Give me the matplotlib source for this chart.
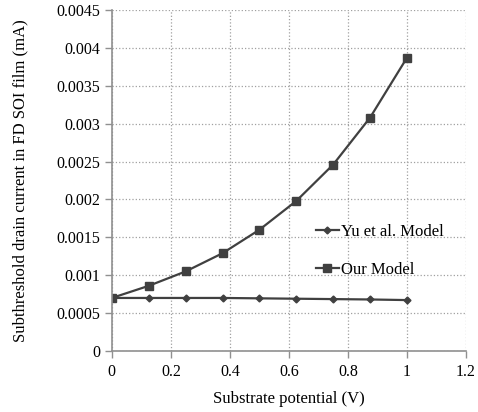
import matplotlib
matplotlib.use("Agg")
import matplotlib.pyplot as plt

# dane
potencjal = [0, 0.125, 0.25, 0.375, 0.5, 0.625, 0.75, 0.875, 1.0]
yu_model = [0.00070, 0.00070, 0.00070, 0.00070, 0.000695, 0.00069, 0.000685, 0.00068, 0.000672]
our_model = [0.00070, 0.00086, 0.00105, 0.00129, 0.00160, 0.00198, 0.00246, 0.00308, 0.00387]

y_ticks = [0, 0.0005, 0.001, 0.0015, 0.002, 0.0025, 0.003, 0.0035, 0.004, 0.0045]
y_labels = ["0", "0.0005", "0.001", "0.0015", "0.002", "0.0025", "0.003", "0.0035", "0.004", "0.0045"]
x_ticks = [0, 0.2, 0.4, 0.6, 0.8, 1.0, 1.2]
x_labels = ["0", "0.2", "0.4", "0.6", "0.8", "1", "1.2"]

plt.rcParams['font.family'] = ['Liberation Serif', 'DejaVu Serif']

fig = plt.figure(figsize=(4.78, 4.12), dpi=100)
ax = fig.add_axes([0.234, 0.148, 0.741, 0.828])

ax.plot(potencjal, yu_model, color='#404040', lw=1.6, marker='D', ms=3.5, label='Yu et al. Model')
ax.plot(potencjal, our_model, color='#404040', lw=1.6, marker='s', ms=6, label='Our Model')

ax.set_xlim(0, 1.2)
ax.set_ylim(0, 0.0045)
ax.set_xticks(x_ticks)
ax.set_xticklabels(x_labels)
ax.set_yticks(y_ticks)
ax.set_yticklabels(y_labels)
ax.grid(True, color='#a0a0a0', linestyle=':', lw=0.9)

for s in ['top', 'right']:
    ax.spines[s].set_visible(False)
for s in ['left', 'bottom']:
    ax.spines[s].set_color('#909090')
    ax.spines[s].set_linewidth(1.2)
ax.tick_params(axis='both', colors='#909090', labelcolor='black', labelsize=11.5, length=5, width=1)
ax.tick_params(axis='x', pad=4)

ax.set_xlabel("Substrate potential (V)", fontsize=12, labelpad=8)
ax.set_ylabel("Subthreshold drain current in FD SOI film (mA)", fontsize=12, labelpad=20)

leg = ax.legend(loc='center left', bbox_to_anchor=(0.575, 0.293), frameon=False, fontsize=12,
                handlelength=1.4, handletextpad=0.1, labelspacing=1.3, borderpad=0, borderaxespad=0)

fig.savefig("out.png", dpi=100)
